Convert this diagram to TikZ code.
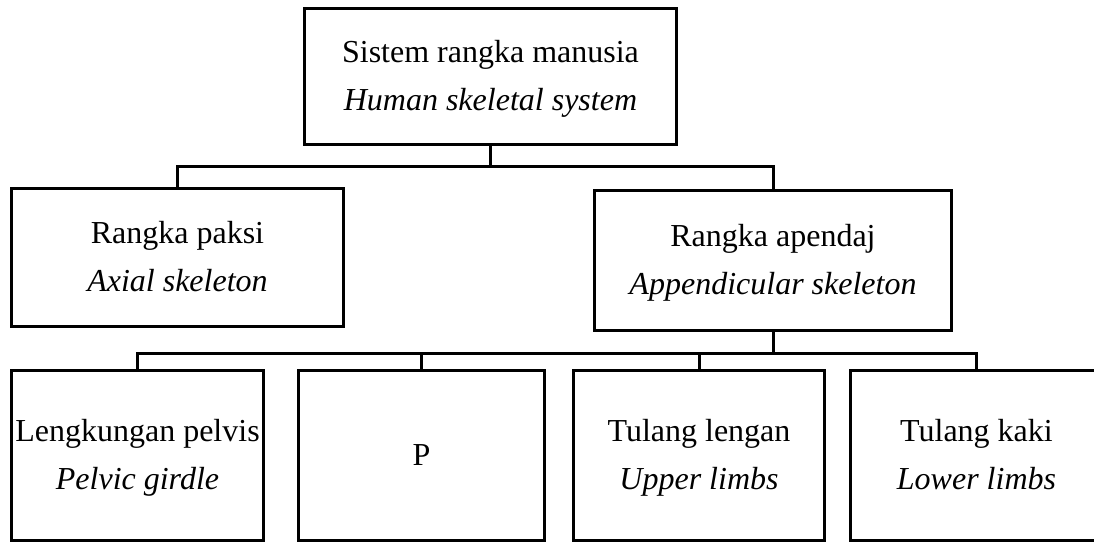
\documentclass[tikz,border=0pt]{standalone}
\usepackage{fontspec}
\setmainfont{Liberation Serif}
\usetikzlibrary{positioning}
\begin{document}
\begin{tikzpicture}[x=1pt, y=-1pt, line width=3pt,
  main/.style = {draw, align=center, inner sep=2pt, font=\fontsize{32}{48}\selectfont},
  limb/.style = {main, minimum width=252pt, minimum height=170pt}]

\path[use as bounding box, clip] (0,0) rectangle (1094,545);

\node[main, minimum width=372pt, minimum height=136pt] (sistem) at (490.5,76.5) {\strut Sistem rangka manusia\\\textit{Human skeletal system}\strut};
\node[main, minimum width=332pt, minimum height=138pt] (paksi) [below=41pt of sistem, xshift=-313pt] {\strut Rangka paksi\\\textit{Axial skeleton}\strut};
\node[main, minimum width=357pt, minimum height=140pt] (apendaj) [below=43pt of sistem, xshift=282.5pt] {\strut Rangka apendaj\\\textit{Appendicular skeleton}\strut};

\node[limb] (pelvis) [below=37pt of apendaj, xshift=-635.5pt] {\strut Lengkungan pelvis\\\textit{Pelvic girdle}\strut};
\node[limb, minimum width=246pt] (p) [right=32pt of pelvis] {P};
\node[limb, minimum width=251pt] (lengan) [right=26pt of p] {\strut Tulang lengan\\\textit{Upper limbs}\strut};
\node[limb] (kaki) [right=23pt of lengan] {\strut Tulang kaki\\\textit{Lower limbs}\strut};

\draw[-] (sistem.south) -- ++(0,21) -| (paksi.north);
\draw[-] (sistem.south) -- ++(0,21) -| (apendaj.north);

\draw[-] (apendaj.south) -- ++(0,21) -| (pelvis.north);
\draw[-] (apendaj.south) -- ++(0,21) -| (p.north);
\draw[-] (apendaj.south) -- ++(0,21) -| (lengan.north);
\draw[-] (apendaj.south) -- ++(0,21) -| (kaki.north);

\end{tikzpicture}
\end{document}
